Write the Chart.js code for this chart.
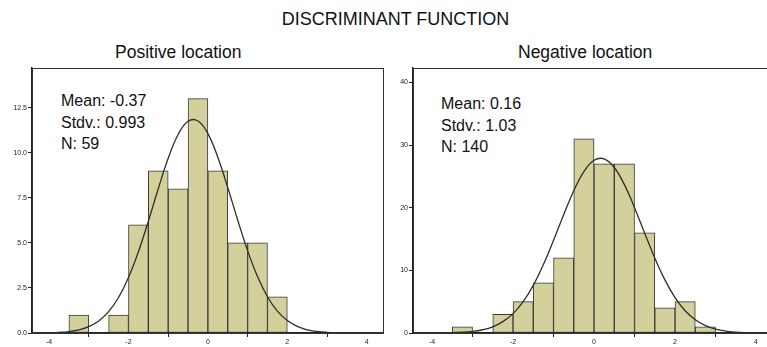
<!DOCTYPE html>
<html>
<head>
<meta charset="utf-8">
<script src="https://cdn.jsdelivr.net/npm/chart.js@4.4.0/dist/chart.umd.min.js"></script>
<style>
  html, body { margin: 0; padding: 0; background: #fff; width: 767px; height: 347px; overflow: hidden; position: relative; font-family: "Liberation Sans", Arial, sans-serif; color: #111; }
  .abs { position: absolute; white-space: nowrap; }
  #title { left: 0; width: 791px; top: 9px; text-align: center; font-size: 18px; }
  .sub { font-size: 17.5px; top: 42px; }
  .stats { font-size: 16px; line-height: 21.5px; }
  canvas { position: absolute; }
</style>
</head>
<body>
<div id="title" class="abs">DISCRIMINANT FUNCTION</div>
<div class="abs sub" style="left:115px;">Positive location</div>
<div class="abs sub" style="left:518px;">Negative location</div>
<div class="abs stats" style="left:61px; top:90px;">Mean: -0.37<br>Stdv.: 0.993<br>N: 59</div>
<div class="abs stats" style="left:441px; top:93px;">Mean: 0.16<br>Stdv.: 1.03<br>N: 140</div>
<canvas id="cPos" width="400" height="287" style="left:0; top:60px;"></canvas>
<canvas id="cNeg" width="420" height="287" style="left:383px; top:60px;"></canvas>
<script>
// ---- data ----
const xTickValues = [-4, -2, 0, 2, 4];
const posYTicks = [0, 2.5, 5, 7.5, 10, 12.5];
const negYTicks = [0, 10, 20, 30, 40];

const posBinMids = [-3.25, -2.75, -2.25, -1.75, -1.25, -0.75, -0.25, 0.25, 0.75, 1.25, 1.75];
const posCounts  = [1, 0, 1, 6, 9, 8, 13, 9, 5, 5, 2];

const negBinMids = [-3.25, -2.75, -2.25, -1.75, -1.25, -0.75, -0.25, 0.25, 0.75, 1.25, 1.75, 2.25, 2.75];
const negCounts  = [1, 0, 3, 5, 8, 12, 31, 27, 27, 16, 4, 5, 1];

const curveX = [-4.5, -4.25, -4, -3.75, -3.5, -3.25, -3, -2.75, -2.5, -2.25, -2, -1.75, -1.5, -1.25, -1, -0.75, -0.5, -0.25, 0, 0.25, 0.5, 0.75, 1, 1.25, 1.5, 1.75, 2, 2.25, 2.5, 2.75, 3, 3.25, 3.5, 3.75, 4, 4.25, 4.5];
const posCurve = [0.002, 0.006, 0.015, 0.036, 0.082, 0.177, 0.355, 0.67, 1.19, 1.97, 3.08, 4.51, 6.2, 8.0, 9.69, 11.01, 11.75, 11.76, 11.06, 9.75, 8.07, 6.27, 4.57, 3.13, 2.01, 1.21, 0.69, 0.37, 0.18, 0.085, 0.037, 0.015, 0.006, 0.002, 0.001, 0, 0];
const negCurve = [0.001, 0.003, 0.008, 0.021, 0.051, 0.116, 0.25, 0.52, 0.99, 1.81, 3.09, 5.0, 7.61, 10.93, 14.8, 18.89, 22.72, 25.77, 27.57, 27.79, 26.42, 23.68, 20.01, 15.94, 11.97, 8.48, 5.66, 3.56, 2.11, 1.18, 0.62, 0.31, 0.145, 0.064, 0.027, 0.011, 0.004];

// ---- helpers ----
const FONT = '"Liberation Sans", Arial, sans-serif';
const boxPlugin = {
  id: 'box',
  afterDraw(chart) {
    const a = chart.chartArea, ctx = chart.ctx;
    ctx.save();
    ctx.strokeStyle = '#333';
    ctx.lineWidth = 1;
    ctx.strokeRect(Math.round(a.left) + 0.5, Math.round(a.top) + 0.5, Math.round(a.right - a.left), Math.round(a.bottom - a.top));
    ctx.restore();
  }
};

function makeChart(id, mids, counts, curve, yTicks, xmin, xmax, ymax, yWidth, yFmt) {
  const bars = mids.map((m, i) => ({ x: m, y: counts[i] }));
  const line = curveX.map((x, i) => ({ x: x, y: curve[i] }));
  return new Chart(document.getElementById(id), {
    data: {
      datasets: [
        { type: 'line', data: line, borderColor: '#2e2e2e', borderWidth: 1.3, pointRadius: 0, tension: 0.4, fill: false, order: 0 },
        { type: 'bar', data: bars, backgroundColor: '#d4d09b', borderColor: '#3a3a3a', borderWidth: 1, borderSkipped: false, barPercentage: 1, categoryPercentage: 1, order: 1 }
      ]
    },
    options: {
      responsive: false,
      animation: false,
      events: [],
      layout: { padding: { top: 8, right: 17, left: 0, bottom: 0 } },
      plugins: { legend: { display: false }, tooltip: { enabled: false } },
      scales: {
        x: {
          type: 'linear', min: xmin, max: xmax, offset: false,
          afterBuildTicks: s => { s.ticks = xTickValues.map(v => ({ value: v })); },
          afterFit: s => { s.height = 14; },
          grid: { drawOnChartArea: false, drawTicks: true, tickLength: 4, color: '#222', lineWidth: 1 },
          border: { display: true, color: '#222', width: 1.5 },
          ticks: { font: { family: FONT, size: 7 }, color: '#222', padding: 1, maxRotation: 0, autoSkip: false, callback: v => String(v) }
        },
        y: {
          type: 'linear', min: 0, max: ymax,
          afterBuildTicks: s => { s.ticks = yTicks.map(v => ({ value: v })); },
          afterFit: s => { s.width = yWidth; },
          grid: { drawOnChartArea: false, drawTicks: true, tickLength: 4, color: '#222', lineWidth: 1 },
          border: { display: true, color: '#222', width: 1.5 },
          ticks: { font: { family: FONT, size: 7 }, color: '#222', padding: 1, autoSkip: false, callback: yFmt }
        }
      }
    },
    plugins: [boxPlugin]
  });
}

makeChart('cPos', posBinMids, posCounts, posCurve, posYTicks, -4.43, 4.41, 14.7, 32, v => Number(v).toFixed(1));
makeChart('cNeg', negBinMids, negCounts, negCurve, negYTicks, -4.47, 4.74, 42.3, 30, v => String(v));
</script>
</body>
</html>
